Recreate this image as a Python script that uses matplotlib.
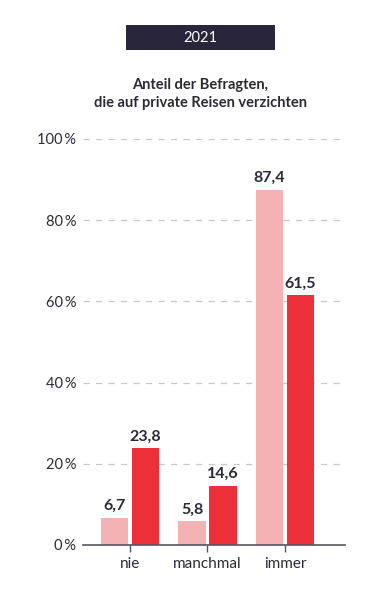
import numpy as np
import matplotlib
matplotlib.use('Agg')
import matplotlib.pyplot as plt
from matplotlib.patches import Rectangle

plt.rcParams['font.family'] = ['Lato', 'DejaVu Sans']

# --- Data ---
categories = ["nie", "manchmal", "immer"]
light_vals = [6.7, 5.8, 87.4]
dark_vals  = [23.8, 14.6, 61.5]
yticks     = [0, 20, 40, 60, 80, 100]

LIGHT = '#f4b2b4'
RED   = '#ec2f39'
TEXT  = '#2b2a35'
GRID  = '#c8c8cc'

fig = plt.figure(figsize=(3.75, 5.92), dpi=100)
fig.patch.set_facecolor('white')

# Year box
fig.patches.append(Rectangle((126 / 375, 1 - 50 / 592), 149 / 375, 25 / 592,
                             transform=fig.transFigure, facecolor='#29253a',
                             edgecolor='none'))
fig.text(200 / 375, 1 - 38 / 592, "2021", color='white', fontsize=10.5,
         ha='center', va='center')
fig.text(200 / 375, 1 - 94 / 592, "Anteil der Befragten,\ndie auf private Reisen verzichten",
         color=TEXT, fontsize=10.5, fontweight='bold', ha='center', va='center',
         linespacing=1.3)

ax = fig.add_axes([83 / 375, 47 / 592, 262 / 375, 406 / 592])
x = np.arange(len(categories))
w = 0.36
ax.bar(x - 0.2, light_vals, width=w, color=LIGHT, zorder=3)
ax.bar(x + 0.2, dark_vals, width=w, color=RED, zorder=3)

for xi, v in zip(x - 0.2, light_vals):
    ax.text(xi, v + 1.2, f"{v:.1f}".replace('.', ','), ha='center', va='bottom',
            fontsize=11.5, fontweight='bold', color=TEXT)
for xi, v in zip(x + 0.2, dark_vals):
    ax.text(xi, v + 1.2, f"{v:.1f}".replace('.', ','), ha='center', va='bottom',
            fontsize=11.5, fontweight='bold', color=TEXT)

ax.set_xlim(-0.606, 2.774)
ax.set_ylim(0, 100)

for yv in yticks[1:]:
    ax.axhline(yv, color=GRID, lw=0.9, ls=(0, (5, 5)), zorder=1)

ax.set_yticks(yticks)
ax.set_yticklabels([f"{v}\u2009%" for v in yticks])
ax.set_xticks(x)
ax.set_xticklabels(categories)
ax.tick_params(axis='y', length=0, pad=5, labelsize=10.5, labelcolor=TEXT)
ax.tick_params(axis='x', length=5, width=1, color='#555560', pad=4,
               labelsize=11, labelcolor=TEXT)

for s in ['top', 'right', 'left']:
    ax.spines[s].set_visible(False)
ax.spines['bottom'].set_color('#555560')
ax.spines['bottom'].set_linewidth(1.2)
ax.spines['bottom'].set_zorder(4)

fig.savefig('out.png', dpi=100)
